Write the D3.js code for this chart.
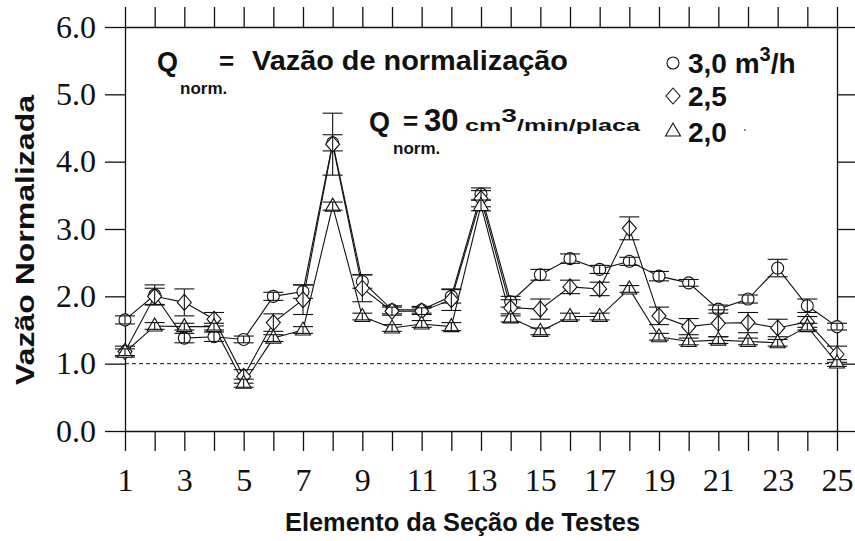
<!DOCTYPE html>
<html>
<head>
<meta charset="utf-8">
<script src="https://cdn.jsdelivr.net/npm/d3@7"></script>
<style>
  body { margin: 0; background: #fff; }
  svg { display: block; }
  .lbl { font-family: "Liberation Sans", Arial, sans-serif; font-weight: bold; fill: #111; }
  .tick text { font-family: "Liberation Serif", "Times New Roman", serif; font-size: 32px; fill: #111; }
</style>
</head>
<body>
<svg id="chart" width="855" height="541"></svg>
<script>
/******************************** data ********************************/
var elements = d3.range(1, 26);
var xTickLabels = [1, 3, 5, 7, 9, 11, 13, 15, 17, 19, 21, 23, 25];
var yTickValues = [0, 1, 2, 3, 4, 5, 6];

// Q = 3,0 m3/h (circles)
var q30 = [1.65, 2.02, 1.38, 1.40, 1.36, 2.00, 2.07, 4.28, 2.22, 1.80, 1.80, 2.00, 3.52,
           1.92, 2.32, 2.56, 2.40, 2.52, 2.30, 2.20, 1.81, 1.96, 2.42, 1.86, 1.55];
var e30 = [0.06, 0.15, 0.07, 0.07, 0.05, 0.06, 0.10, 0.12, 0.10, 0.06, 0.05, 0.10, 0.09,
           0.08, 0.08, 0.07, 0.06, 0.06, 0.07, 0.05, 0.06, 0.06, 0.13, 0.10, 0.05];
// Q = 2,5 (diamonds)
var q25 = [1.18, 2.00, 1.91, 1.66, 0.81, 1.61, 1.95, 4.26, 2.12, 1.78, 1.78, 1.95, 3.45,
           1.83, 1.81, 2.14, 2.11, 3.01, 1.71, 1.55, 1.60, 1.61, 1.53, 1.62, 1.14];
var e25 = [0.08, 0.12, 0.20, 0.10, 0.10, 0.13, 0.22, 0.46, 0.20, 0.06, 0.05, 0.16, 0.12,
           0.12, 0.15, 0.10, 0.10, 0.17, 0.13, 0.12, 0.20, 0.15, 0.13, 0.08, 0.12];
// Q = 2,0 (triangles)
var q20 = [1.17, 1.56, 1.55, 1.55, 0.71, 1.38, 1.50, 3.34, 1.70, 1.53, 1.59, 1.55, 3.35,
           1.68, 1.48, 1.70, 1.70, 2.11, 1.40, 1.33, 1.35, 1.33, 1.31, 1.55, 1.01];
var e20 = [0.05, 0.05, 0.05, 0.05, 0.06, 0.05, 0.05, 0.06, 0.05, 0.05, 0.05, 0.06, 0.08,
           0.06, 0.05, 0.05, 0.05, 0.05, 0.05, 0.05, 0.05, 0.05, 0.05, 0.05, 0.05];

var refLine = 1.0;

/******************************** setup ********************************/
var svg = d3.select("#chart");
var m = {left: 125, right: 837, top: 27, bottom: 431};

var x = d3.scaleLinear().domain([1, 25]).range([m.left, m.right]);
var y = d3.scaleLinear().domain([0, 6]).range([m.bottom, m.top]);

// axes (ticks outward on all four sides)
svg.append("g").attr("transform", "translate(0," + m.bottom + ")")
  .call(d3.axisBottom(x).tickValues(elements).tickSize(20).tickSizeOuter(0).tickPadding(17)
    .tickFormat(function(d) { return xTickLabels.indexOf(d) >= 0 ? d : ""; }));
svg.append("g").attr("transform", "translate(0," + m.top + ")")
  .call(d3.axisTop(x).tickValues(elements).tickSize(20).tickSizeOuter(0).tickFormat(""));
svg.append("g").attr("transform", "translate(" + m.left + ",0)")
  .call(d3.axisLeft(y).tickValues(yTickValues).tickSize(20).tickSizeOuter(0).tickPadding(9)
    .tickFormat(d3.format(".1f")));
svg.append("g").attr("transform", "translate(" + m.right + ",0)")
  .call(d3.axisRight(y).tickValues(yTickValues).tickSize(20).tickSizeOuter(0).tickFormat(""));

svg.selectAll(".domain, .tick line").attr("stroke", "#111").attr("stroke-width", 1.3);
svg.selectAll(".tick text").attr("fill", "#111");

// reference line at 1.0
svg.append("line")
  .attr("x1", m.left).attr("x2", m.right)
  .attr("y1", y(refLine)).attr("y2", y(refLine))
  .attr("stroke", "#111").attr("stroke-width", 1).attr("stroke-dasharray", "4,3");

/******************************** series ********************************/
var series = [
  {vals: q30, errs: e30, shape: "circle"},
  {vals: q25, errs: e25, shape: "diamond"},
  {vals: q20, errs: e20, shape: "triangle"}
];

function shapePath(shape) {
  if (shape == "circle") return "M6,0A6,6 0 1,1 -6,0A6,6 0 1,1 6,0Z";
  if (shape == "diamond") return "M0,-8L7,0L0,8L-7,0Z";
  return "M0,-8L7.5,5L-7.5,5Z";
}

var line = d3.line().x(function(d, i) { return x(elements[i]); }).y(function(d) { return y(d); });

series.forEach(function(s) {
  svg.append("path").attr("d", line(s.vals))
    .attr("fill", "none").attr("stroke", "#111").attr("stroke-width", 1.1);
});

series.forEach(function(s) {
  var g = svg.append("g");
  g.selectAll("path.mk").data(s.vals).enter().append("path")
    .attr("class", "mk")
    .attr("transform", function(d, i) { return "translate(" + x(elements[i]) + "," + y(d) + ")"; })
    .attr("d", shapePath(s.shape))
    .attr("fill", "#fff").attr("stroke", "#111").attr("stroke-width", 1.1);

  var eb = g.selectAll("g.eb").data(s.vals).enter().append("g").attr("class", "eb");
  eb.append("line")
    .attr("x1", function(d, i) { return x(elements[i]); })
    .attr("x2", function(d, i) { return x(elements[i]); })
    .attr("y1", function(d, i) { return y(d + s.errs[i]); })
    .attr("y2", function(d, i) { return y(d - s.errs[i]); });
  [1, -1].forEach(function(sg) {
    eb.append("line")
      .attr("x1", function(d, i) { return x(elements[i]) - 10; })
      .attr("x2", function(d, i) { return x(elements[i]) + 10; })
      .attr("y1", function(d, i) { return y(d + sg * s.errs[i]); })
      .attr("y2", function(d, i) { return y(d + sg * s.errs[i]); });
  });
  eb.selectAll("line").attr("stroke", "#111").attr("stroke-width", 1.1);
});

/******************************** labels ********************************/
svg.append("text").attr("class", "lbl")
  .attr("transform", "translate(34,240) rotate(-90)")
  .attr("text-anchor", "middle").attr("font-size", 25)
  .attr("textLength", 290).attr("lengthAdjust", "spacingAndGlyphs")
  .text("Vazão Normalizada");

svg.append("text").attr("class", "lbl")
  .attr("x", 285).attr("y", 531).attr("font-size", 25)
  .attr("textLength", 355).attr("lengthAdjust", "spacingAndGlyphs")
  .text("Elemento da Seção de Testes");

// note 1
svg.append("text").attr("class", "lbl").attr("x", 157).attr("y", 71).attr("font-size", 27).text("Q");
svg.append("text").attr("class", "lbl").attr("x", 180).attr("y", 94).attr("font-size", 17).text("norm.");
svg.append("text").attr("class", "lbl").attr("x", 219).attr("y", 70).attr("font-size", 26).text("=");
svg.append("text").attr("class", "lbl").attr("x", 252).attr("y", 70).attr("font-size", 27)
  .attr("textLength", 316).attr("lengthAdjust", "spacingAndGlyphs")
  .text("Vazão de normalização");

// note 2
svg.append("text").attr("class", "lbl").attr("x", 369).attr("y", 131).attr("font-size", 27).text("Q");
svg.append("text").attr("class", "lbl").attr("x", 393).attr("y", 154).attr("font-size", 17).text("norm.");
svg.append("text").attr("class", "lbl").attr("x", 403).attr("y", 130).attr("font-size", 26).text("=");
svg.append("text").attr("class", "lbl").attr("x", 424).attr("y", 131).attr("font-size", 31).text("30");
var t2 = svg.append("text").attr("class", "lbl").attr("x", 465).attr("y", 131)
  .attr("textLength", 175).attr("lengthAdjust", "spacingAndGlyphs");
t2.append("tspan").attr("font-size", 17).text("cm");
t2.append("tspan").attr("font-size", 19).attr("dy", -9).text("3");
t2.append("tspan").attr("font-size", 17).attr("dy", 9).text("/min/placa");

// legend
var legend = [
  {shape: "circle", y: 63, label: "3,0 m", sup: "3", tail: "/h", ty: 73},
  {shape: "diamond", y: 96, label: "2,5", ty: 106},
  {shape: "triangle", y: 131, label: "2,0", ty: 142}
];
legend.forEach(function(l) {
  svg.append("path").attr("transform", "translate(673," + l.y + ")")
    .attr("d", shapePath(l.shape)).attr("fill", "#fff").attr("stroke", "#111").attr("stroke-width", 1.1);
  var t = svg.append("text").attr("class", "lbl").attr("x", 688).attr("y", l.ty).attr("font-size", 28);
  t.append("tspan").text(l.label);
  if (l.sup) {
    t.append("tspan").attr("font-size", 20).attr("dy", -12).text(l.sup);
    t.append("tspan").attr("dy", 12).text(l.tail);
  }
});
svg.append("circle").attr("cx", 745).attr("cy", 130).attr("r", 0.9).attr("fill", "#555");
</script>
</body>
</html>
